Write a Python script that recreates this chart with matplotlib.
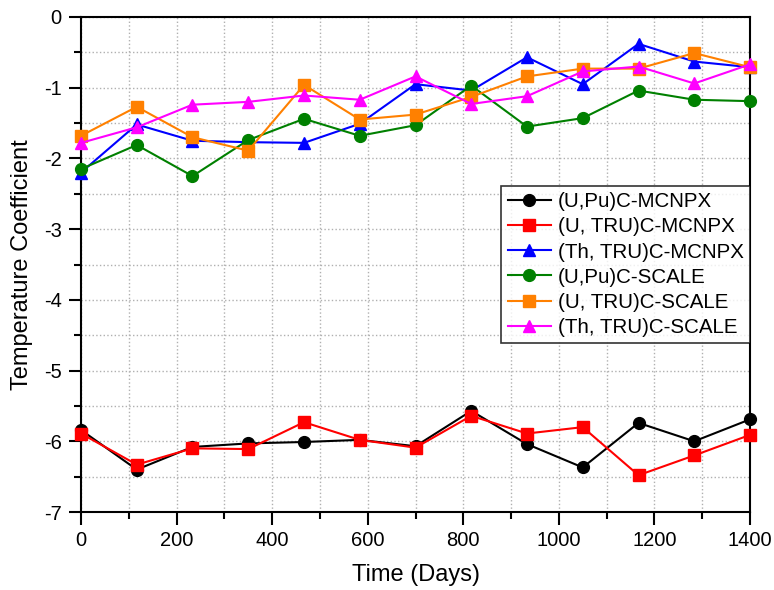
import matplotlib
matplotlib.use("Agg")
import matplotlib.pyplot as plt
from matplotlib.ticker import MultipleLocator

plt.rcParams['font.family'] = ['Liberation Sans', 'DejaVu Sans']
plt.rcParams['axes.unicode_minus'] = False

days = [0, 116.7, 233.3, 350, 466.7, 583.3, 700, 816.7, 933.3, 1050, 1166.7, 1283.3, 1400]

upu_mcnpx = [-5.84, -6.40, -6.08, -6.03, -6.01, -5.98, -6.07, -5.57, -6.04, -6.37, -5.74, -6.00, -5.69]
utru_mcnpx = [-5.89, -6.33, -6.10, -6.11, -5.73, -5.98, -6.09, -5.64, -5.89, -5.80, -6.48, -6.20, -5.91]
thtru_mcnpx = [-2.20, -1.52, -1.75, -1.77, -1.78, -1.51, -0.95, -1.04, -0.57, -0.95, -0.38, -0.63, -0.71]
upu_scale = [-2.15, -1.81, -2.25, -1.74, -1.44, -1.68, -1.53, -0.97, -1.55, -1.43, -1.04, -1.17, -1.19]
utru_scale = [-1.68, -1.27, -1.70, -1.89, -0.96, -1.45, -1.38, -1.13, -0.84, -0.73, -0.73, -0.51, -0.71]
thtru_scale = [-1.78, -1.56, -1.24, -1.20, -1.11, -1.17, -0.84, -1.23, -1.12, -0.77, -0.70, -0.94, -0.67]

labels = ["(U,Pu)C-MCNPX", "(U, TRU)C-MCNPX", "(Th, TRU)C-MCNPX",
          "(U,Pu)C-SCALE", "(U, TRU)C-SCALE", "(Th, TRU)C-SCALE"]
series = [upu_mcnpx, utru_mcnpx, thtru_mcnpx, upu_scale, utru_scale, thtru_scale]
colors = ["black", "red", "blue", "green", "#FF8000", "magenta"]
markers = ["o", "s", "^", "o", "s", "^"]

fig = plt.figure(figsize=(7.74, 5.90), dpi=100)
ax = fig.add_axes([81/774, 1 - 512/590, (750-81)/774, (512-17)/590])

for y, lab, c, m in zip(series, labels, colors, markers):
    ax.plot(days, y, color=c, marker=m, markersize=8.5, linewidth=1.5, label=lab,
            clip_on=False, zorder=3)

ax.set_xlim(0, 1400)
ax.set_ylim(-7, 0)
ax.xaxis.set_major_locator(MultipleLocator(200))
ax.xaxis.set_minor_locator(MultipleLocator(100))
ax.yaxis.set_major_locator(MultipleLocator(1))
ax.yaxis.set_minor_locator(MultipleLocator(0.5))
ax.grid(True, which='both', linestyle=':', color='#b0b0b0', linewidth=1.0)
ax.tick_params(which='major', direction='out', length=9, width=1.5, labelsize=14.5, pad=5)
ax.tick_params(which='minor', direction='out', length=5, width=1.5)
for s in ax.spines.values():
    s.set_linewidth(1.5)
ax.set_axisbelow(True)

ax.set_xlabel("Time (Days)", fontsize=17, labelpad=10)
ax.set_ylabel("Temperature Coefficient", fontsize=17, labelpad=8)

leg = ax.legend(loc='upper right', bbox_to_anchor=(1.0, (512-186)/(512-17)),
                fontsize=14.8, frameon=True, fancybox=False, edgecolor='black',
                handlelength=2.1, borderpad=0.3, labelspacing=0.3, handletextpad=0.35,
                borderaxespad=0.0, markerscale=1.0)
leg.get_frame().set_linewidth(1.2)
leg.set_zorder(5)

fig.savefig("out.png", dpi=100)
